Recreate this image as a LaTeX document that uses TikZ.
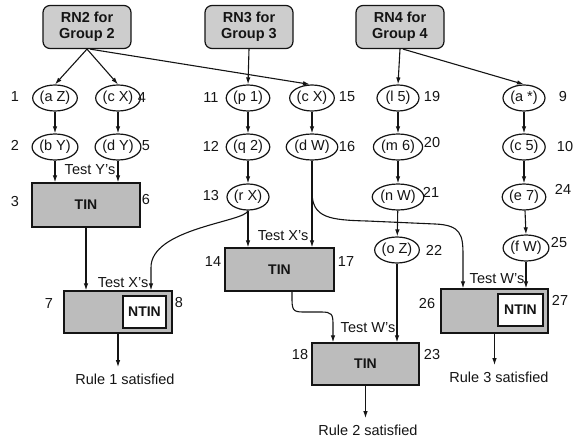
\documentclass[tikz,border=0pt]{standalone}
\usepackage{fontspec}
\setmainfont{Liberation Sans}
\usepackage{tikz}
\usetikzlibrary{arrows.meta,positioning,shapes.geometric}
\definecolor{rnGray}{RGB}{205,205,205}
\definecolor{tinGray}{RGB}{188,188,188}
\definecolor{lineBlack}{RGB}{20,20,20}

\begin{document}
\begin{tikzpicture}[x=1pt,y=-1pt,
    every node/.style={font=\fontsize{14.5}{16}\selectfont, text=lineBlack},
    rnbox/.style={draw=lineBlack, line width=1.2pt, rounded corners=7pt, fill=rnGray,
        minimum width=88, minimum height=43, align=center, inner sep=1pt,
        font=\fontsize{14.5}{15.5}\selectfont\bfseries},
    elem/.style={ellipse, draw=lineBlack, line width=1.2pt, minimum width=42,
        minimum height=26, inner sep=0.5pt},
    tinbox/.style={draw=lineBlack, line width=1.2pt, fill=tinGray, minimum width=108,
        minimum height=43, font=\fontsize{14}{15}\selectfont\bfseries},
    ntinbox/.style={draw=lineBlack, line width=1.2pt, fill=white, minimum width=43,
        minimum height=32, inner sep=1pt, font=\fontsize{14}{15}\selectfont\bfseries},
    arr/.style={draw=lineBlack, line width=1.1pt, -{Latex[length=7pt,width=4.5pt]}},
    num/.style={inner sep=0pt}]
    \useasboundingbox (0,0) rectangle (573,441);

    % rule nodes
    \node[rnbox] (rn2) at (87,27) {RN2 for\\Group 2};
    \node[rnbox] (rn3) at (249,27) {RN3 for\\Group 3};
    \node[rnbox] (rn4) at (400,27) {RN4 for\\Group 4};

    % alpha memory elements
    \node[elem] (e1) at (55,98) {(a Z)};
    \node[elem] (e4) at (118,98) {(c X)};
    \node[elem] (e2) at (55,147) {(b Y)};
    \node[elem] (e5) at (118,147) {(d Y)};
    \node[elem] (e11) at (248,98) {(p 1)};
    \node[elem] (e12) at (248,147) {(q 2)};
    \node[elem] (e13) at (248,197) {(r X)};
    \node[elem] (e15) at (312,98) {(c X)};
    \node[elem] (e16) at (312,147) {(d W)};
    \node[elem] (e19) at (398,98) {(l 5)};
    \node[elem] (e20) at (398,147) {(m 6)};
    \node[elem] (e21) at (398,197) {(n W)};
    \node[elem] (e22) at (397,250) {(o Z)};
    \node[elem] (e9) at (524,98) {(a *)};
    \node[elem] (e10) at (524,147) {(c 5)};
    \node[elem] (e24) at (524,197) {(e 7)};
    \node[elem] (e25) at (526,248) {(f W)};

    % join nodes
    \node[tinbox, minimum width=108, minimum height=44] (t3) at (86,205) {TIN};
    \node[tinbox, minimum width=108, minimum height=42] (t7) at (118,312) {};
    \node[ntinbox] (nt8) at (144.5,312) {NTIN};
    \node[tinbox, minimum width=109, minimum height=43] (t14) at (279.5,269.5) {TIN};
    \node[tinbox, minimum width=107, minimum height=42] (t18) at (365.5,364) {TIN};
    \node[tinbox, minimum width=107, minimum height=44] (t26) at (494.5,311) {};
    \node[ntinbox, minimum width=45] (nt27) at (520.5,310) {NTIN};

    % test labels
    \node (testY) at (90,170) {Test Y's};
    \node (testXa) at (123,283) {Test X's};
    \node (testXb) at (283,236) {Test X's};
    \node (testWa) at (368,328) {Test W's};
    \node (testWb) at (497,279) {Test W's};

    % results
    \node (rule1) at (125,379) {Rule 1 satisfied};
    \node (rule2) at (368,430) {Rule 2 satisfied};
    \node (rule3) at (499,377) {Rule 3 satisfied};

    % node numbers
    \foreach \t/\px/\py in {1/15/97, 4/142/98, 2/15/145, 5/146/146, 3/15/202, 6/146/200,
        11/211/98, 12/211/146, 13/211/196, 14/213/262, 17/346/262,
        15/347/97, 16/347/147, 19/432/97, 20/432/143, 21/431/192, 22/434/250,
        9/563/97, 10/565/147, 24/563/189, 25/559/243,
        7/49/304, 8/179/303, 26/427/304, 27/560/300, 18/300/355, 23/432/355}
        \node[num] (n\t) at (\px,\py) {\t};

    % connectors from rule nodes
    \draw[arr] (rn2.south) -- (e1.north);
    \draw[arr] (rn2.south) -- (e4.north);
    \draw[arr] ([xshift=3pt]rn2.south) -- ([xshift=-2pt]e15.north);
    \draw[arr] (rn3.south) -- (e11.north);
    \draw[arr] (rn4.south) -- (e19.north);
    \draw[arr] ([xshift=3pt]rn4.south) -- (e9.north);

    % chains
    \draw[arr] (e1) -- (e2);
    \draw[arr] (e4) -- (e5);
    \draw[arr] (e11) -- (e12);
    \draw[arr] (e12) -- (e13);
    \draw[arr] (e15) -- (e16);
    \draw[arr] (e19) -- (e20);
    \draw[arr] (e20) -- (e21);
    \draw[arr] (e21) -- (e22);
    \draw[arr] (e9) -- (e10);
    \draw[arr] (e10) -- (e24);
    \draw[arr] ([xshift=1pt]e24.south) -- (e25.north);

    % into join nodes
    \draw[arr] (e2.south) -- (e2.south |- t3.north);
    \draw[arr] (e5.south) -- (e5.south |- t3.north);
    \draw[arr] (t3.south) -- (t3.south |- t7.north);
    \draw[arr] (e13.south) .. controls (246,222) and (150,228) .. (151,268)
        -- ([xshift=33pt]t7.north);
    \draw[arr] (e13.south) -- (e13.south |- t14.north);
    \draw[arr] (e16.south) -- (e16.south |- t14.north);
    \draw[arr] (e16.south) -- (312,192) .. controls (312,218) and (330,220) .. (367,221)
        -- (435,224) .. controls (461,225) and (463,235) .. (463,255)
        -- ([xshift=-31.5pt]t26.north);
    \draw[arr] ([xshift=12.5pt]t14.south) -- (292,300) .. controls (292,312) and (295,312) .. (306,312)
        -- (321,312) .. controls (332,312) and (333,314) .. (333,325)
        -- ([xshift=-32.5pt]t18.north);
    \draw[arr] (e22.south) -- (e22.south |- t18.north);
    \draw[arr] (e25.south) -- (e25.south |- t26.north);

    % outputs
    \draw[arr] (t7.south) -- ([yshift=3pt]t7.south |- rule1.north);
    \draw[arr] (t18.south) -- ([yshift=3pt]t18.south |- rule2.north);
    \draw[arr] (t26.south) -- ([yshift=3pt]t26.south |- rule3.north);
\end{tikzpicture}
\end{document}
